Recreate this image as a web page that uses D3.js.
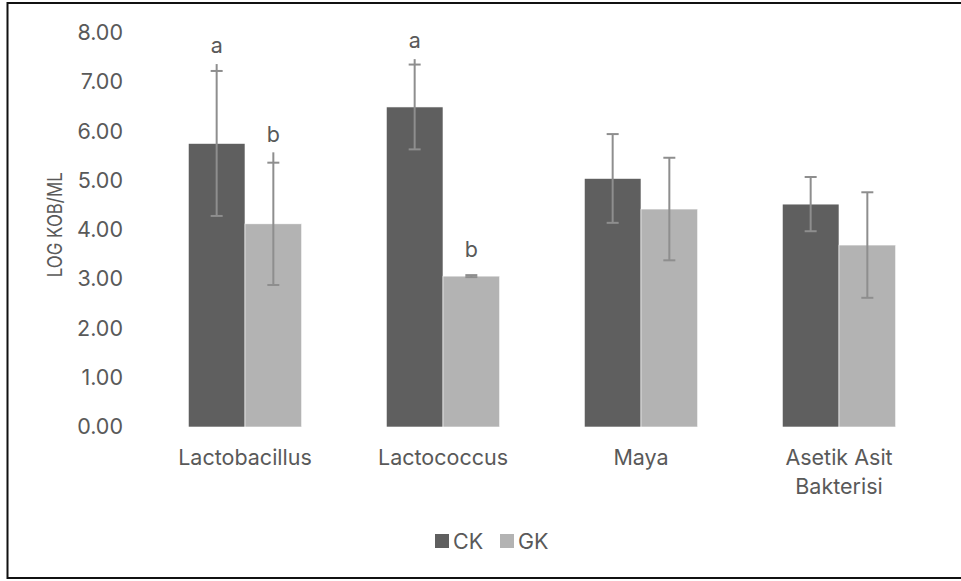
<!DOCTYPE html>
<html>
<head>
<meta charset="utf-8">
<script src="https://cdn.jsdelivr.net/npm/d3@7"></script>
<style>
  html, body { margin: 0; padding: 0; background: #fff; }
  svg { display: block; }
  text { font-family: Inter, "Open Sans", "Liberation Sans", sans-serif; fill: #595959; }
</style>
</head>
<body>
<svg id="chart" width="961" height="581"></svg>
<script>
// Microbial counts (log KOB/mL) per group, CK vs GK
const categories = ["Lactobacillus", "Lactococcus", "Maya", "Asetik Asit Bakterisi"];
const seriesNames = ["CK", "GK"];
const ckValues = [5.75, 6.49, 5.04, 4.52];
const gkValues = [4.12, 3.06, 4.42, 3.69];
const ckErrors = [1.47, 0.86, 0.90, 0.55];
const gkErrors = [1.24, 0.02, 1.04, 1.07];
// upper whisker lines that run past the cap (null = none)
const ckWhiskerTop = [7.36, 7.46, null, null];
const gkWhiskerTop = [5.57, null, null, null];
// significance letters and the value level where each sits
const ckLetters = ["a", "a", "", ""];
const gkLetters = ["b", "b", "", ""];
const ckLetterAt = [7.58, 7.69, null, null];
const gkLetterAt = [5.78, 3.45, null, null];
const yTicks = [0, 1, 2, 3, 4, 5, 6, 7, 8];
const yTitle = "LOG KOB/ML";

const colors = { CK: "#5f5f5f", GK: "#b3b3b3" };
const errColor = "#8e8e8e";
const FONT = "21.5px";

const rows = categories.map((c, i) => ({
  category: c,
  bars: [
    { key: "CK", value: ckValues[i], err: ckErrors[i], whisker: ckWhiskerTop[i], letter: ckLetters[i], letterAt: ckLetterAt[i] },
    { key: "GK", value: gkValues[i], err: gkErrors[i], whisker: gkWhiskerTop[i], letter: gkLetters[i], letterAt: gkLetterAt[i] }
  ]
}));

const svg = d3.select("#chart");
const plot = { left: 146, right: 938, top: 32.5, bottom: 427 };

// outer frame
svg.append("rect")
  .attr("x", 7.5).attr("y", 3)
  .attr("width", 970).attr("height", 575)
  .attr("fill", "none").attr("stroke", "#111").attr("stroke-width", 2);

const x0 = d3.scaleBand()
  .domain(categories)
  .range([plot.left, plot.right])
  .paddingInner(0.4275)
  .paddingOuter(0.4275 / 2);

const x1 = d3.scaleBand()
  .domain(seriesNames)
  .range([0, x0.bandwidth()]);

const y = d3.scaleLinear().domain([0, 8]).range([plot.bottom, plot.top]);

// y axis labels
const yAxis = svg.append("g")
  .attr("transform", `translate(${plot.left},0)`)
  .call(d3.axisLeft(y).tickValues(yTicks).tickFormat(d3.format(".2f")).tickSize(0).tickPadding(23));
yAxis.select(".domain").remove();
yAxis.selectAll("text")
  .style("font-family", "Inter, 'Open Sans', sans-serif")
  .style("font-size", FONT).attr("fill", "#595959");

// y axis title (condensed caps)
svg.append("text")
  .attr("transform", `translate(62,${(plot.top + plot.bottom) / 2 - 5}) rotate(-90)`)
  .attr("text-anchor", "middle")
  .attr("textLength", 105)
  .attr("lengthAdjust", "spacingAndGlyphs")
  .style("font-size", "20px")
  .text(yTitle);

// bars
const groups = svg.append("g").selectAll("g")
  .data(rows).join("g")
  .attr("transform", d => `translate(${x0(d.category)},0)`);

groups.selectAll("rect")
  .data(d => d.bars).join("rect")
  .attr("x", d => x1(d.key))
  .attr("y", d => y(d.value))
  .attr("width", x1.bandwidth())
  .attr("height", d => y(0) - y(d.value))
  .attr("fill", d => colors[d.key])
  .attr("stroke", "#ffffff").attr("stroke-width", 0.6);

// error bars
const capHalf = 6;
const eb = groups.selectAll("g.err")
  .data(d => d.bars).join("g").attr("class", "err")
  .attr("transform", d => `translate(${x1(d.key) + x1.bandwidth() / 2},0)`);

eb.append("line")
  .attr("x1", 0).attr("x2", 0)
  .attr("y1", d => y(d.value - d.err))
  .attr("y2", d => y(d.whisker != null ? d.whisker : d.value + d.err))
  .attr("stroke", errColor).attr("stroke-width", 2);
eb.selectAll("line.cap")
  .data(d => [d.value - d.err, d.value + d.err]).join("line").attr("class", "cap")
  .attr("x1", -capHalf).attr("x2", capHalf)
  .attr("y1", v => y(v)).attr("y2", v => y(v))
  .attr("stroke", errColor).attr("stroke-width", 2);

// significance letters
eb.filter(d => d.letter)
  .append("text")
  .attr("x", 0)
  .attr("y", d => y(d.letterAt))
  .attr("text-anchor", "middle")
  .style("font-size", FONT)
  .attr("fill", "#404040")
  .text(d => d.letter);

// category labels, wrapped when wider than the band
const xAxis = svg.append("g")
  .attr("transform", `translate(0,${plot.bottom})`)
  .call(d3.axisBottom(x0).tickSize(0).tickPadding(0));
xAxis.select(".domain").remove();
xAxis.selectAll("text")
  .style("font-family", "Inter, 'Open Sans', sans-serif")
  .style("font-size", FONT).attr("fill", "#595959")
  .attr("dy", null)
  .each(function (d) {
    const t = d3.select(this);
    const words = d.split(" ");
    t.text(null);
    const lines = [];
    let cur = [];
    const probe = t.append("tspan");
    words.forEach(w => {
      const test = cur.concat(w).join(" ");
      probe.text(test);
      if (probe.node().getComputedTextLength() > 140 && cur.length) {
        lines.push(cur.join(" "));
        cur = [w];
      } else cur.push(w);
    });
    lines.push(cur.join(" "));
    probe.remove();
    lines.forEach((ln, i) => {
      t.append("tspan").attr("x", 0).attr("y", 38 + i * 29).text(ln);
    });
  });

// legend
const legend = svg.append("g").attr("transform", "translate(435,534)");
const legendItems = legend.selectAll("g").data(seriesNames).join("g")
  .attr("transform", (d, i) => `translate(${i * 65},0)`);
legendItems.append("rect")
  .attr("width", 14).attr("height", 14)
  .attr("fill", d => colors[d]);
legendItems.append("text")
  .attr("x", 18).attr("y", 14.5)
  .style("font-size", FONT)
  .text(d => d);
</script>
</body>
</html>
